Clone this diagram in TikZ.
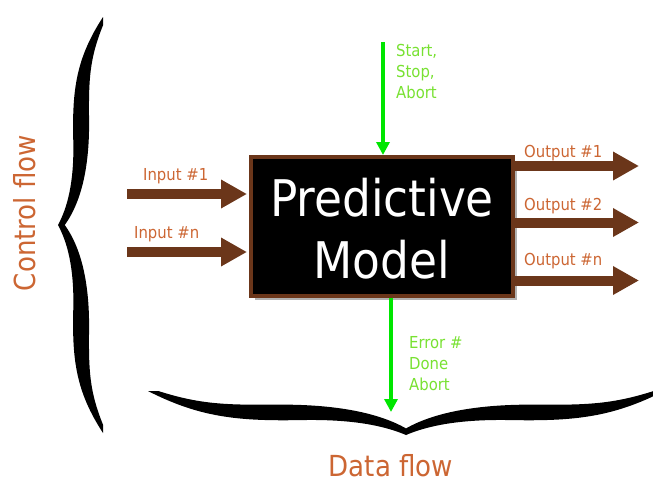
\documentclass[tikz,border=0pt]{standalone}
\usepackage{fontspec}
\setmainfont{DejaVu Sans Condensed}
\usetikzlibrary{arrows.meta,shadows}
\definecolor{arrowbrown}{RGB}{107,54,26}
\definecolor{labelorange}{RGB}{204,102,51}
\definecolor{sigreen}{RGB}{0,230,0}
\definecolor{textgreen}{RGB}{120,225,50}
\newcommand{\myhalfbrace}{\fill (0,0) .. controls (0.08,0.2) and (0.2,0.36) .. (0.4,0.34) .. controls (0.65,0.31) and (0.8,0.4) .. (1,1) -- (0.96,1) .. controls (0.8,0.7) and (0.7,0.68) .. (0.5,0.69) .. controls (0.3,0.7) and (0.12,0.55) .. (0,0.15) -- cycle;}
\begin{document}
\begin{tikzpicture}[x=1pt,y=-1pt,
  modelbox/.style={draw=arrowbrown, line width=4pt, fill=black, minimum width=262pt, minimum height=139pt, inner sep=0pt,
    drop shadow={shadow xshift=4pt, shadow yshift=-4pt, opacity=0.3, fill=black}},
  modeltxt/.style={text=white, align=center, font=\fontsize{50.5}{62}\selectfont, inner sep=0pt},
  brownarrow/.style={draw=arrowbrown, line width=10pt, -{Triangle[width=27pt,length=26pt]}},
  greenarrow/.style={draw=sigreen, line width=4pt, -{Triangle[width=13pt,length=13pt]}},
  lbl/.style={text=labelorange, font=\fontsize{16.5}{20}\selectfont, inner sep=0pt, anchor=base west},
  glbl/.style={text=textgreen, font=\fontsize{16.5}{21}\selectfont, inner sep=0pt, anchor=north west, align=left},
  biglbl/.style={text=labelorange, font=\fontsize{29}{34}\selectfont, inner sep=0pt}]
\useasboundingbox (0,0) rectangle (653,483);
\begin{scope}
\clip (0,0) rectangle (653,483);
% braces
\begin{scope}[shift={(58,225)}, x={(0pt,208pt)}, y={(45pt,0pt)}]\myhalfbrace\end{scope}
\begin{scope}[shift={(58,225)}, x={(0pt,-208pt)}, y={(45pt,0pt)}]\myhalfbrace\end{scope}
\begin{scope}[shift={(406,435)}, x={(-258pt,0pt)}, y={(0pt,44pt)}]\myhalfbrace\end{scope}
\begin{scope}[shift={(406,435)}, x={(258pt,0pt)}, y={(0pt,44pt)}]\myhalfbrace\end{scope}
\end{scope}

% model
\node[modelbox] (model) at (382,226.5) {};
\node[modeltxt] (modeltext) at (382,229) {Predictive\\Model};

% inputs
\coordinate (in1) at (127,194);
\coordinate (inn) at (127,252);
\draw[brownarrow, shorten >=2pt] (in1) -- (in1 -| model.west);
\draw[brownarrow, shorten >=2pt] (inn) -- (inn -| model.west);
\node[lbl] (lin1) at (143,180) {Input \#1};
\node[lbl] (linn) at (134,238) {Input \#n};

% outputs
\coordinate (out1) at (639,166);
\coordinate (out2) at (639,222.5);
\coordinate (outn) at (639,280.5);
\draw[brownarrow] (model.east |- out1) -- (out1);
\draw[brownarrow] (model.east |- out2) -- (out2);
\draw[brownarrow] (model.east |- outn) -- (outn);
\node[lbl] (lout1) at (524,157) {Output \#1};
\node[lbl] (lout2) at (524,210) {Output \#2};
\node[lbl] (loutn) at (524,265) {Output \#n};

% control signals
\coordinate (ctl) at (383,42);
\draw[greenarrow] (ctl) -- (ctl |- model.north);
\node[glbl] (lctl) at (396,44) {Start,\\Stop,\\Abort};
\coordinate (err) at (391,412);
\draw[greenarrow] (model.south -| err) -- (err);
\node[glbl] (lerr) at (409,336) {Error \#\\Done\\Abort};

% flow labels
\node[biglbl, rotate=90] (cflow) at (24.5,213) {Control flow};
\node[biglbl] (dflow) at (391,466) {Data flow};
\end{tikzpicture}
\end{document}
